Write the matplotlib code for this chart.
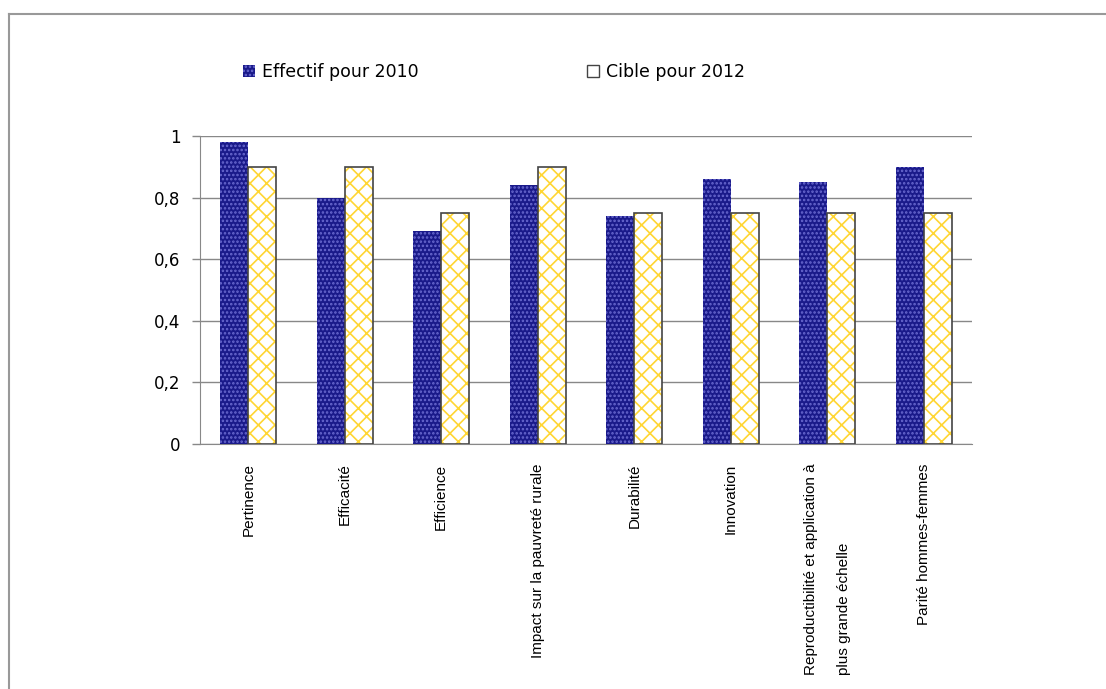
import numpy as np
import matplotlib.pyplot as plt
from matplotlib.lines import Line2D
from matplotlib.patches import Patch

categories = ['Pertinence', 'Efficacité', 'Efficience', 'Impact sur la pauvreté rurale',
              'Durabilité', 'Innovation',
              'Reproductibilité et application à\nplus grande échelle',
              'Parité hommes-femmes']
effectif_2010 = [0.98, 0.80, 0.69, 0.84, 0.74, 0.86, 0.85, 0.90]
cible_2012 = [0.90, 0.90, 0.75, 0.90, 0.75, 0.75, 0.75, 0.75]
yticks = [0, 0.2, 0.4, 0.6, 0.8, 1]
ytick_labels = ['0', '0,2', '0,4', '0,6', '0,8', '1']

plt.rcParams['font.family'] = ['Liberation Sans', 'DejaVu Sans']
plt.rcParams['hatch.linewidth'] = 1.2

fig = plt.figure(figsize=(11.06, 6.89), dpi=100)
ax = fig.add_axes([200/1106, 1-444/689, 772/1106, 308/689])

x = np.arange(len(categories))
w = 0.29
navy = '#1a1a8a'
gold = '#ffd633'

# dark bars with dot pattern
ax.bar(x - w/2, effectif_2010, w, color=navy, edgecolor='#6a6ad0', hatch='....', linewidth=0, zorder=3)
# yellow bars with cross pattern, then outline
ax.bar(x + w/2, cible_2012, w, color='white', edgecolor=gold, hatch='xx', linewidth=0, zorder=3)
ax.bar(x + w/2, cible_2012, w, fill=False, edgecolor='#444444', linewidth=1.2, zorder=4)

ax.set_xlim(-0.5, len(categories) - 0.5)
ax.set_ylim(0, 1)
ax.set_yticks(yticks)
ax.set_yticklabels(ytick_labels, fontsize=12, family='DejaVu Sans')
ax.set_xticks(x)
ax.set_xticklabels(categories, rotation=90, fontsize=11, ha='center', va='top',
                   linespacing=2.7, multialignment='left')
ax.tick_params(axis='x', length=0, pad=14)
ax.tick_params(axis='y', length=6, color='#888888', width=1, pad=8)

ax.grid(axis='y', color='#888888', linewidth=1, zorder=0)
for s in ['top', 'right']:
    ax.spines[s].set_visible(False)
ax.spines['left'].set_color('#888888')
ax.spines['bottom'].set_color('#888888')

handles = [Patch(facecolor=navy, edgecolor='#6a6ad0', hatch='....', linewidth=0),
           Patch(facecolor='white', edgecolor='#444444', hatch='', linewidth=1)]
fig.legend(handles, ['Effectif pour 2010', 'Cible pour 2012'], ncol=2, frameon=False,
           loc='center left', bbox_to_anchor=(227/1106, 1-72/689),
           prop={'family': 'DejaVu Sans', 'size': 12.5},
           handlelength=0.7, handleheight=0.7, handletextpad=0.4, columnspacing=9.7)

# outer frame
fig.add_artist(Line2D([9/1106, 1105/1106], [1-14/689, 1-14/689], color='#999999', linewidth=1.5))
fig.add_artist(Line2D([9/1106, 9/1106], [0, 1-14/689], color='#999999', linewidth=1.5))

fig.savefig('out.png', dpi=100)
